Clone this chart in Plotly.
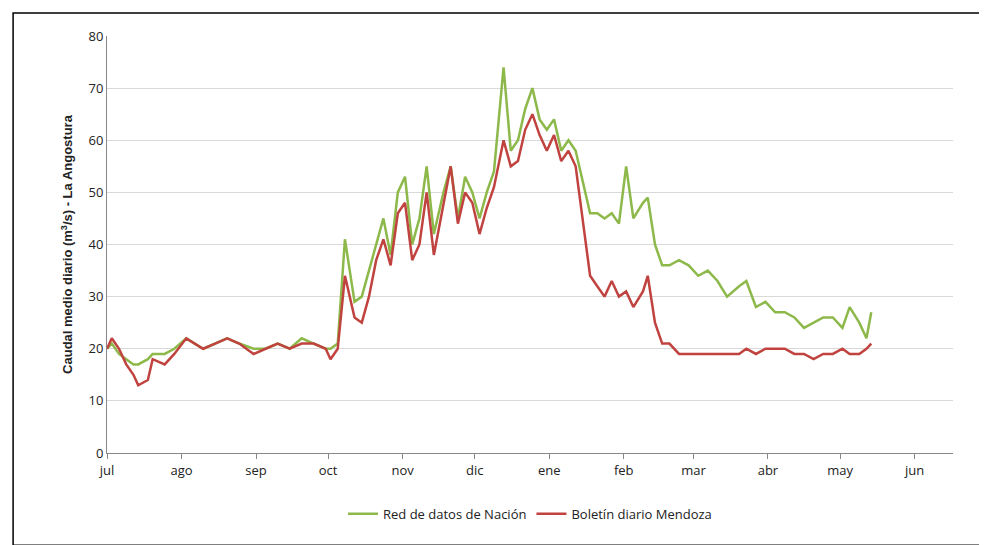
import plotly.graph_objects as go

dates = ["2019-07-01","2019-07-03","2019-07-06","2019-07-09","2019-07-12","2019-07-14","2019-07-18","2019-07-20","2019-07-25","2019-07-29",
"2019-08-03","2019-08-10","2019-08-15","2019-08-20","2019-08-25","2019-08-31",
"2019-09-05","2019-09-10","2019-09-15","2019-09-20","2019-09-25","2019-09-30",
"2019-10-02","2019-10-05","2019-10-08","2019-10-12","2019-10-15","2019-10-18","2019-10-21","2019-10-24","2019-10-27","2019-10-30",
"2019-11-02","2019-11-05","2019-11-08","2019-11-11","2019-11-14","2019-11-18","2019-11-21","2019-11-24","2019-11-27","2019-11-30",
"2019-12-03","2019-12-06","2019-12-09","2019-12-13","2019-12-16","2019-12-19","2019-12-22","2019-12-25","2019-12-28","2019-12-31",
"2020-01-03","2020-01-06","2020-01-09","2020-01-12","2020-01-15","2020-01-18","2020-01-21","2020-01-24","2020-01-27","2020-01-30",
"2020-02-02","2020-02-05","2020-02-09","2020-02-11","2020-02-14","2020-02-17","2020-02-20","2020-02-24","2020-02-28",
"2020-03-03","2020-03-07","2020-03-11","2020-03-15","2020-03-20","2020-03-23","2020-03-27","2020-03-31",
"2020-04-04","2020-04-08","2020-04-12","2020-04-16","2020-04-20","2020-04-24","2020-04-28",
"2020-05-02","2020-05-05","2020-05-09","2020-05-12","2020-05-14"]

nacion = [20,21,19,18,17,17,18,19,19,20,
22,20,21,22,21,20,
20,21,20,22,21,20,
20,21,41,29,30,35,40,45,38,50,
53,40,45,55,42,50,55,45,53,50,
45,50,54,74,58,60,66,70,64,62,
64,58,60,58,52,46,46,45,46,44,
55,45,48,49,40,36,36,37,36,
34,35,33,30,32,33,28,29,
27,27,26,24,25,26,26,
24,28,25,22,27]

mendoza = [20,22,20,17,15,13,14,18,17,19,
22,20,21,22,21,19,
20,21,20,21,21,20,
18,20,34,26,25,30,37,41,36,46,
48,37,40,50,38,48,55,44,50,48,
42,47,51,60,55,56,62,65,61,58,
61,56,58,55,45,34,32,30,33,30,
31,28,31,34,25,21,21,19,19,
19,19,19,19,19,20,19,20,
20,20,19,19,18,19,19,
20,19,19,20,21]

tickvals = ["2019-07-01","2019-08-01","2019-09-01","2019-10-01","2019-11-01","2019-12-01",
            "2020-01-01","2020-02-01","2020-03-01","2020-04-01","2020-05-01","2020-06-01"]
ticktext = ["jul","ago","sep","oct","nov","dic","ene","feb","mar","abr","may","jun"]

fig = go.Figure()
fig.add_trace(go.Scatter(x=dates, y=nacion, mode="lines", name="Red de datos de Nación",
                         line=dict(color="#8DB84A", width=2.5)))
fig.add_trace(go.Scatter(x=dates, y=mendoza, mode="lines", name="Boletín diario Mendoza",
                         line=dict(color="#C0433F", width=2.5)))
fig.update_layout(
    width=987, height=545, paper_bgcolor="white", plot_bgcolor="white",
    margin=dict(l=99, r=42, t=28, b=100),
    font=dict(family="Open Sans", size=13, color="#222"),
    xaxis=dict(range=["2019-07-01","2020-06-17"], tickvals=tickvals, ticktext=ticktext,
               showgrid=False, showline=True, linecolor="#888", ticks="outside",
               ticklen=5, tickcolor="#888", automargin=False),
    yaxis=dict(range=[0,80], dtick=10, showgrid=True, gridcolor="#d9d9d9",
               showline=True, linecolor="#888", zeroline=False, automargin=False,
               title=dict(text="<b>Caudal medio diario (m<sup>3</sup>/s) - La Angostura</b>",
                          font=dict(size=13, family="Liberation Sans Narrow, Liberation Sans"), standoff=12)),
    legend=dict(orientation="h", x=0.5, xanchor="center", y=-0.11, yanchor="top",
                font=dict(size=13)),
    shapes=[dict(type="rect", xref="paper", yref="paper", x0=-0.111, x1=1.041,
                 y0=-0.221, y1=1.055, line=dict(color="black", width=1.5))]
)
fig.write_html("out.html")
